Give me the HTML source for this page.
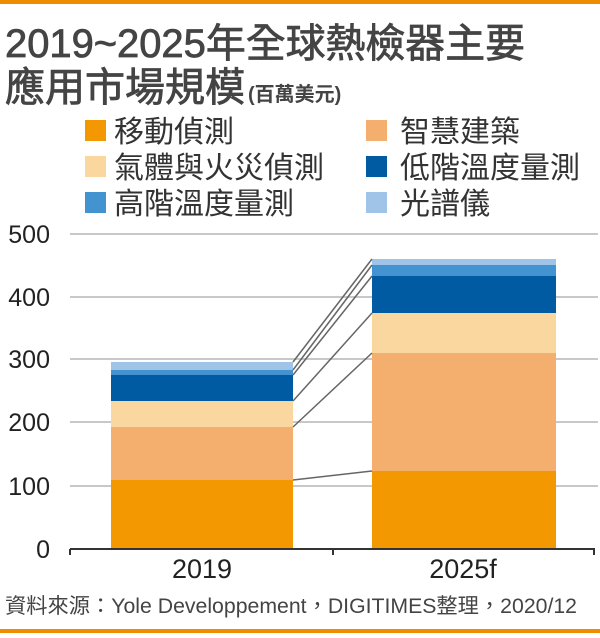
<!DOCTYPE html>
<html><head><meta charset="utf-8"><style>
body{margin:0;background:#fff;}
svg text{font-family:"Liberation Sans","Noto Sans CJK TC",sans-serif;}
</style></head><body>
<svg width="600" height="633" viewBox="0 0 600 633" xmlns="http://www.w3.org/2000/svg">
<rect x="0" y="0" width="600" height="4" fill="#f08c00"/>
<rect x="0" y="629" width="600" height="4" fill="#f08c00"/>
<text x="5" y="57" font-size="40" fill="#444" stroke="#444" stroke-width="0.8" textLength="520" lengthAdjust="spacingAndGlyphs">2019~2025年全球熱檢器主要</text>
<text x="5" y="101" font-size="40" fill="#444" stroke="#444" stroke-width="0.8">應用市場規模<tspan font-size="20" dx="3" font-weight="bold" stroke-width="0">(百萬美元)</tspan></text>
<g font-size="30" fill="#333">
<rect x="85" y="120" width="21" height="21" fill="#f39800"/><text x="114" y="142">移動偵測</text>
<rect x="366" y="120" width="21" height="21" fill="#f4af6e"/><text x="400" y="142">智慧建築</text>
<rect x="85" y="156" width="21" height="21" fill="#fbd7a0"/><text x="114" y="178">氣體與火災偵測</text>
<rect x="366" y="156" width="21" height="21" fill="#005ba2"/><text x="400" y="178">低階溫度量測</text>
<rect x="85" y="192" width="21" height="21" fill="#4393d0"/><text x="114" y="214">高階溫度量測</text>
<rect x="366" y="192" width="21" height="21" fill="#a0c4e8"/><text x="400" y="214">光譜儀</text>
</g>
<g stroke="#c8c8c8" stroke-width="2">
<line x1="70" y1="234" x2="598" y2="234"/>
<line x1="70" y1="297" x2="598" y2="297"/>
<line x1="70" y1="359" x2="598" y2="359"/>
<line x1="70" y1="422" x2="598" y2="422"/>
<line x1="70" y1="486" x2="598" y2="486"/>
</g>
<g font-size="25" fill="#222" text-anchor="end">
<text x="50" y="243">500</text><text x="50" y="306">400</text><text x="50" y="368">300</text>
<text x="50" y="431">200</text><text x="50" y="495">100</text><text x="50" y="558">0</text>
</g>
<rect x="111" y="480" width="182" height="69" fill="#f39800"/>
<rect x="111" y="427" width="182" height="53" fill="#f4af6e"/>
<rect x="111" y="401" width="182" height="26" fill="#fbd7a0"/>
<rect x="111" y="375" width="182" height="26" fill="#005ba2"/>
<rect x="111" y="370" width="182" height="5" fill="#4393d0"/>
<rect x="111" y="362" width="182" height="8" fill="#a0c4e8"/>
<rect x="372" y="471" width="184" height="78" fill="#f39800"/>
<rect x="372" y="353" width="184" height="118" fill="#f4af6e"/>
<rect x="372" y="313" width="184" height="40" fill="#fbd7a0"/>
<rect x="372" y="276" width="184" height="37" fill="#005ba2"/>
<rect x="372" y="265" width="184" height="11" fill="#4393d0"/>
<rect x="372" y="259" width="184" height="6" fill="#a0c4e8"/>
<g stroke="#666" stroke-width="1.5">
<line x1="293" y1="480" x2="372" y2="471"/>
<line x1="293" y1="427" x2="372" y2="353"/>
<line x1="293" y1="401" x2="372" y2="313"/>
<line x1="293" y1="375" x2="372" y2="276"/>
<line x1="293" y1="370" x2="372" y2="265"/>
<line x1="293" y1="362" x2="372" y2="259"/>
</g>
<g stroke="#333" stroke-width="2">
<line x1="70" y1="549" x2="595" y2="549"/>
<line x1="70" y1="549" x2="70" y2="555"/>
<line x1="333" y1="549" x2="333" y2="555"/>
<line x1="594" y1="549" x2="594" y2="555"/>
</g>
<g font-size="27" fill="#222" text-anchor="middle">
<text x="202" y="578">2019</text><text x="463" y="578">2025f</text>
</g>
<text x="5" y="613" font-size="21" fill="#444" textLength="572" lengthAdjust="spacingAndGlyphs">資料來源：Yole Developpement，DIGITIMES整理，2020/12</text>
</svg>
</body></html>
